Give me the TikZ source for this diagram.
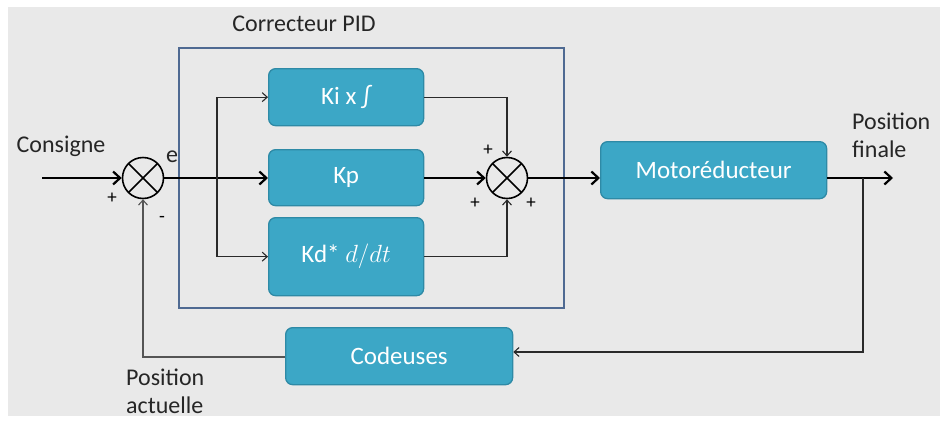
\documentclass[tikz,border=0pt]{standalone}
\usepackage{fontspec}
\setmainfont{Carlito}
\usetikzlibrary{arrows.meta}
\definecolor{bg}{HTML}{E9E9E9}
\definecolor{blk}{HTML}{3CA7C6}
\definecolor{blkd}{HTML}{2E8AA6}
\definecolor{pidc}{HTML}{4F6A92}
\definecolor{ln}{HTML}{2A2A2A}
\tikzset{
  x=1pt,y=-1pt,
  blockbox/.style={draw=blkd,fill=blk,line width=1.3pt,rounded corners=7pt,text=white,font=\fontsize{25}{28}\selectfont,inner sep=0pt},
  sumnode/.style={circle,draw=black,line width=1.6pt,minimum size=41pt,inner sep=0pt,
    path picture={\draw[line width=1.6pt] (path picture bounding box.north west)--(path picture bounding box.south east) (path picture bounding box.north east)--(path picture bounding box.south west);}},
  thick line/.style={line width=2.4pt,draw=black,-{Straight Barb[length=7pt,width=13pt,line width=2.2pt]}},
  thin line/.style={line width=1.1pt,draw=ln,-{Straight Barb[length=5pt,width=9pt,line width=1.1pt]}},
  lbl/.style={font=\fontsize{24}{28}\selectfont,text=black!85,inner sep=0pt},
  sgn/.style={font=\fontsize{19}{20}\selectfont,inner sep=0pt},
}
\begin{document}
\begin{tikzpicture}
\useasboundingbox (0,0) rectangle (940,421);
\fill[white] (0,0) rectangle (940,421);
\fill[bg] (8,7) rectangle (940,416);
% PID frame
\node[draw=pidc,line width=1.6pt,minimum width=385pt,minimum height=260pt,inner sep=0pt,anchor=north west] (pid) at (178,47) {};
\node[lbl] (pidlbl) at (304,24) {Correcteur PID};
% blocks
\node[blockbox,minimum width=155pt,minimum height=57pt,anchor=north west] (ki) at (268,68) {Ki x ∫};
\node[blockbox,minimum width=155pt,minimum height=56pt,anchor=north west] (kp) at (268,149) {Kp};
\node[blockbox,minimum width=155pt,minimum height=78pt,anchor=north west] (kd) at (268,217) {Kd* $d/dt$};
\node[blockbox,minimum width=226pt,minimum height=57pt,anchor=north west] (mot) at (600,141) {Motoréducteur};
\node[blockbox,minimum width=227pt,minimum height=57pt,anchor=north west] (cod) at (285,327) {Codeuses};
% summing junctions
\node[sumnode] (s1) at (143,178) {};
\node[sumnode] (s2) at (507,178) {};
% coordinates
\coordinate (in) at (42,178);
\coordinate (br) at (217,178);
\coordinate (out) at (893,178);
\coordinate (fb) at (863,178);
% labels
\node[lbl] (cons) at (61,146) {Consigne};
\node[lbl] (e) at (172,157) {e};
\node[sgn] (p1) at (112,198) {+};
\node[sgn] (m1) at (162,219) {-};
\node[sgn] (p2) at (488,150) {+};
\node[sgn] (p3) at (475,203) {+};
\node[sgn] (p4) at (531,203) {+};
\node[lbl,align=left,anchor=west] (pf) at (852,135) {Position\\finale};
\node[lbl,align=left,anchor=west] (pa) at (126,391) {Position\\actuelle};
% connectors
\draw[thick line] (in) -- (s1.west);
\draw[thick line] (s1.east) -- (kp.west |- s1);
\draw[thin line] (br) |- (ki.west);
\draw[thin line] (br) |- (kd.west);
\draw[thin line] (ki.east) -| (s2.north);
\draw[thick line] (kp.east |- s2) -- (s2.west);
\draw[thin line] (kd.east) -| (s2.south);
\draw[thick line] (s2.east) -- (mot.west |- s2);
\draw[thick line] (mot.east |- s2) -- (out);
\draw[thin line] (fb) |- (cod.east |- 0,352);
\draw[thin line,draw=ln!80] (cod.west |- 0,357) -| (s1.south);
\end{tikzpicture}
\end{document}
